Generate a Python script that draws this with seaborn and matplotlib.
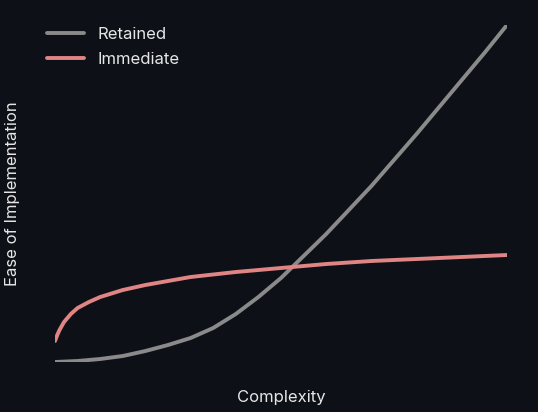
import numpy as np
import pandas as pd
import seaborn as sns
import matplotlib.pyplot as plt

# values (x: complexity 0-10, y: ease, arbitrary units)
x_ret = [0.0, 0.5, 1.0, 1.5, 2.0, 2.5, 3.0, 3.5, 4.0, 4.5, 5.0, 5.5, 6.0, 6.5, 7.0, 7.5, 8.0, 8.5, 9.0, 9.5, 10.0]
y_ret = [0, 1, 3, 6, 11, 17, 24, 34, 48, 65, 84, 106, 128, 152, 176, 202, 228, 255, 282, 309, 337]
x_imm = [0.0, 0.05, 0.1, 0.2, 0.35, 0.5, 0.75, 1.0, 1.5, 2.0, 2.5, 3.0, 4.0, 5.0, 6.0, 7.0, 8.0, 9.0, 10.0]
y_imm = [21, 27, 32, 40, 48, 54, 60, 65, 72, 77, 81, 85, 90, 94, 98, 101, 103, 105, 107]

df = pd.concat([
    pd.DataFrame({"Complexity": x_ret, "Ease": y_ret, "Mode": "Retained"}),
    pd.DataFrame({"Complexity": x_imm, "Ease": y_imm, "Mode": "Immediate"}),
])

bg = "#0d1117"
sns.set_theme(style="dark", rc={"axes.facecolor": bg, "figure.facecolor": bg})
plt.rcParams['font.family'] = ['Inter', 'DejaVu Sans']

fig = plt.figure(figsize=(5.38, 4.12), dpi=100)
ax = fig.add_axes([55 / 538, 50 / 412, 452 / 538, 337 / 412])
sns.lineplot(data=df, x="Complexity", y="Ease", hue="Mode",
             palette={"Retained": "#8a8a8a", "Immediate": "#e08484"},
             linewidth=2.8, ax=ax)
ax.set_xlim(0, 10)
ax.set_ylim(0, 337)
ax.set_xticks([])
ax.set_yticks([])
for s in ax.spines.values():
    s.set_visible(False)
ax.set_xlabel("Complexity", color="#e6e6e6", fontsize=12, labelpad=20)
ax.set_ylabel("Ease of Implementation", color="#e6e6e6", fontsize=12, labelpad=25)
leg = ax.legend(loc="upper left", bbox_to_anchor=(-0.05, 1.04), frameon=False,
                fontsize=12, handlelength=2.2, labelspacing=0.6)
for t in leg.get_texts():
    t.set_color("#e6e6e6")
fig.savefig("out.png", dpi=100, facecolor=bg)
